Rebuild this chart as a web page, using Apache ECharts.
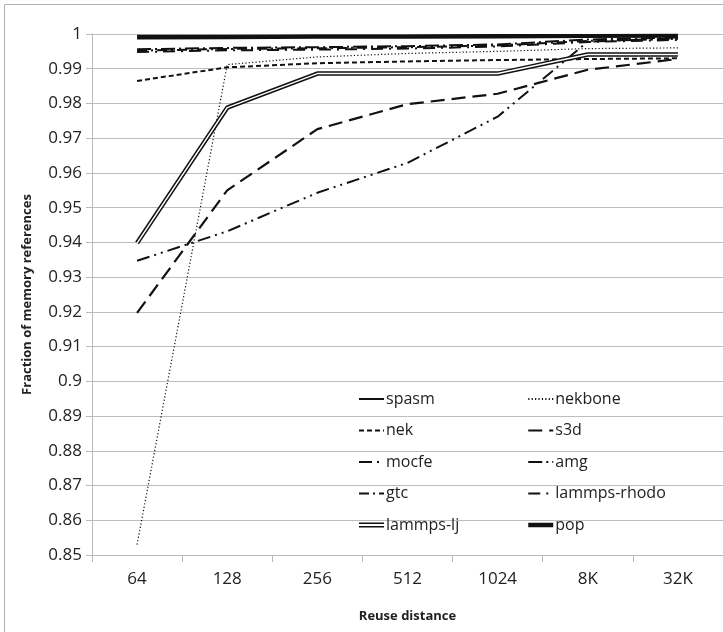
<!DOCTYPE html>
<html>
<head>
<meta charset="utf-8">
<script src="https://cdn.jsdelivr.net/npm/echarts@6/dist/echarts.min.js"></script>
<style>
  html, body { margin: 0; padding: 0; background: #fff; }
  #chart { width: 723px; height: 632px; }
</style>
</head>
<body>
<div id="chart"></div>
<script>
const categories = ["64", "128", "256", "512", "1024", "8K", "32K"];

const spasm = [0.9995, 0.9995, 0.9996, 0.9996, 0.9997, 0.9997, 0.9997];
const pop = [0.999, 0.9991, 0.9992, 0.9992, 0.9993, 0.9994, 0.9995];
const nekbone = [0.853, 0.9912, 0.9934, 0.9944, 0.995, 0.9958, 0.996];
const nek = [0.9865, 0.9904, 0.9916, 0.9921, 0.9925, 0.9928, 0.993];
const s3d = [0.9197, 0.955, 0.9726, 0.9798, 0.9828, 0.9897, 0.9928];
const mocfe = [0.9347, 0.9432, 0.9543, 0.9629, 0.9762, 0.9978, 0.9988];
const amg = [0.9956, 0.996, 0.9962, 0.9965, 0.997, 0.9984, 0.999];
const gtc = [0.9952, 0.9957, 0.9959, 0.9962, 0.9967, 0.998, 0.9986];
const lammpsRhodo = [0.9948, 0.9953, 0.9955, 0.9958, 0.9964, 0.9977, 0.9983];
const lammpsLj = [0.9398, 0.9788, 0.9886, 0.9886, 0.9886, 0.9941, 0.9941];

const FONT = "Open Sans";
const INK = "#111";

function line(name, data, width, type, extra) {
  return Object.assign({
    name: name,
    type: "line",
    data: data,
    symbol: "none",
    silent: true,
    color: INK,
    lineStyle: { color: INK, width: width, type: type }
  }, extra || {});
}

// the legend draws a dot on line icons; hide it, keep the line
const legendCommon = {
  orient: "vertical",
  top: 386,
  itemWidth: 25,
  itemHeight: 14,
  itemGap: 15.5,
  selectedMode: false,
  itemStyle: { opacity: 0 },
  textStyle: { fontFamily: FONT, fontSize: 16, color: "#222", padding: [0, 0, 0, -3] }
};

const ljIcon = "path://M0,0H25V1.5H0Z M0,3.5H25V5H0Z";

const option = {
  animation: false,
  backgroundColor: "#fff",
  graphic: [{
    type: "rect",
    shape: { x: 4.5, y: 4.5, width: 740, height: 650 },
    style: { fill: null, stroke: "#b0b0b0", lineWidth: 1 },
    silent: true
  }],
  grid: { left: 92, right: 0, top: 34, bottom: 77 },
  legend: [
    Object.assign({}, legendCommon, {
      left: 353,
      data: ["spasm", "nek", "mocfe", "gtc",
        { name: "lammps-lj", icon: ljIcon, itemStyle: { opacity: 1, color: INK } }]
    }),
    Object.assign({}, legendCommon, {
      left: 521,
      data: ["nekbone", "s3d", "amg", "lammps-rhodo",
        { name: "pop", lineStyle: { width: 4.5 } }]
    })
  ],
  xAxis: {
    type: "category",
    data: categories,
    boundaryGap: true,
    name: "Reuse distance",
    nameLocation: "middle",
    nameGap: 55,
    nameTextStyle: { fontFamily: FONT, fontSize: 13, fontWeight: "bold", color: "#222" },
    axisLine: { lineStyle: { color: "#b8b8b8" } },
    axisTick: { show: true, length: 7, lineStyle: { color: "#b8b8b8" } },
    axisLabel: { fontFamily: FONT, fontSize: 17, color: "#222", margin: 16 }
  },
  yAxis: {
    type: "value",
    min: 0.85,
    max: 1,
    interval: 0.01,
    name: "Fraction of memory references",
    nameLocation: "middle",
    nameGap: 58,
    nameTextStyle: { fontFamily: FONT, fontSize: 13, fontWeight: "bold", color: "#222" },
    axisLine: { show: true, lineStyle: { color: "#b8b8b8" } },
    axisTick: { show: true, length: 6, lineStyle: { color: "#b8b8b8" } },
    splitLine: { lineStyle: { color: "#bcbcbc" } },
    axisLabel: { fontFamily: FONT, fontSize: 17, color: "#222", margin: 10 }
  },
  series: [
    line("nekbone", nekbone, 1.2, [1.2, 2.2]),
    line("nek", nek, 2, [5, 3]),
    line("s3d", s3d, 2.2, [14, 7]),
    line("mocfe", mocfe, 2, [13, 5, 2, 5, 2, 5]),
    line("amg", amg, 2, [14, 4, 2, 4]),
    line("gtc", gtc, 2, [10, 4, 2, 4]),
    line("lammps-rhodo", lammpsRhodo, 2, [12, 6, 2, 6]),
    line("lammps-lj", lammpsLj, 4.5, "solid"),
    line("lammps-lj-inner", lammpsLj, 1.5, "solid", { color: "#fff", lineStyle: { color: "#fff", width: 1.5 } }),
    line("spasm", spasm, 2, "solid"),
    line("pop", pop, 4, "solid")
  ]
};

const chart = echarts.init(document.getElementById("chart"));
chart.setOption(option);
</script>
</body>
</html>
